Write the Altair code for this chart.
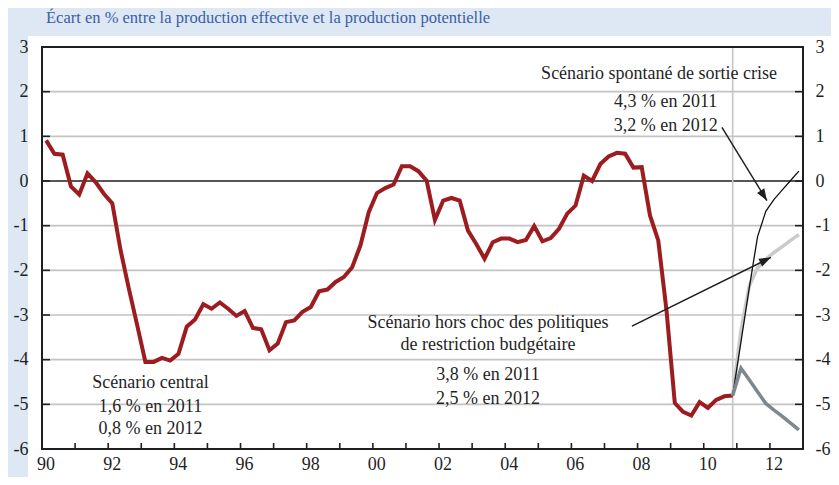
import altair as alt
import pandas as pd

# ---------------- data ----------------
red_start = 1990.125          # first quarter (mid-quarter position)
red_vals = [0.91, 0.61, 0.59, -0.12, -0.30, 0.17, -0.03, -0.29, -0.50, -1.55,
            -2.41, -3.22, -4.05, -4.05, -3.96, -4.02, -3.87, -3.26, -3.10, -2.76,
            -2.86, -2.72, -2.86, -3.02, -2.91, -3.29, -3.32, -3.79, -3.64, -3.16,
            -3.12, -2.93, -2.82, -2.47, -2.43, -2.26, -2.15, -1.93, -1.44, -0.70,
            -0.27, -0.16, -0.08, 0.33, 0.33, 0.22, 0.01, -0.87, -0.44, -0.38,
            -0.44, -1.11, -1.41, -1.74, -1.37, -1.29, -1.29, -1.37, -1.32, -1.01,
            -1.35, -1.28, -1.07, -0.73, -0.55, 0.12, 0.00, 0.38, 0.55, 0.63,
            0.61, 0.30, 0.31, -0.77, -1.33, -2.90, -4.97, -5.17, -5.25, -4.95,
            -5.08, -4.90, -4.82, -4.80]

scen_t = [2010.875, 2011.125, 2011.375, 2011.625, 2011.875,
          2012.125, 2012.375, 2012.625, 2012.875]
scen_central = [-4.80, -4.19, -4.45, -4.72, -4.98, -5.13, -5.27, -5.42, -5.57]
scen_hors_choc = [-4.80, -3.35, -2.35, -1.95, -1.75, -1.60, -1.47, -1.33, -1.20]
scen_spontane = [-4.80, -3.60, -2.40, -1.25, -0.68, -0.41, -0.20, 0.01, 0.22]

y_ticks = [-6, -5, -4, -3, -2, -1, 0, 1, 2, 3]
grid_vals = [-5, -4, -3, -2, -1, 1, 2]
x_label_years = [1990, 1992, 1994, 1996, 1998, 2000, 2002, 2004, 2006, 2008, 2010, 2012]
x_label_text = ["90", "92", "94", "96", "98", "00", "02", "04", "06", "08", "10", "12"]
x_tick_years = list(range(1991, 2013))
forecast_start = [2010.875]

title_text = "Écart en % entre la production effective et la production potentielle"

ann_text = ["Scénario spontané de sortie crise", "4,3 % en 2011", "3,2 % en 2012",
            "Scénario hors choc des politiques", "de restriction budgétaire",
            "3,8 % en 2011", "2,5 % en 2012",
            "Scénario central", "1,6 % en 2011", "0,8 % en 2012"]
ann_t = [2008.65, 2008.85, 2008.85,
         2003.48, 2003.48, 2003.48, 2003.48,
         1993.28, 1993.28, 1993.28]
ann_v = [2.40, 1.76, 1.24,
         -3.19, -3.68, -4.35, -4.87,
         -4.52, -5.06, -5.55]

arrow_id = ["a1", "a1", "a2", "a2"]
arrow_t = [2010.55, 2011.91, 2007.83, 2012.03]
arrow_v = [1.20, -0.44, -3.25, -1.71]
head_t = [2011.91, 2012.03]
head_v = [-0.44, -1.71]
head_angle = [148, 64]

# ---------------- build ----------------
W, H = 761, 402
FONT = "Liberation Serif"
INK = "#1f1f1f"

xs = alt.Scale(domain=[1990, 2013], nice=False, zero=False)
ys = alt.Scale(domain=[-6, 3], nice=False, zero=False)

red_df = pd.DataFrame({"t": [red_start + 0.25 * i for i in range(len(red_vals))],
                       "v": red_vals})
scen_df = pd.DataFrame({"t": scen_t * 3,
                        "v": scen_central + scen_hors_choc + scen_spontane,
                        "s": ["central"] * 9 + ["hors"] * 9 + ["spont"] * 9})
dummy = pd.DataFrame({"a": [0]})

X = lambda f="t", axis=None: alt.X(f"{f}:Q", scale=xs, axis=axis)
Y = lambda f="v", axis=None: alt.Y(f"{f}:Q", scale=ys, axis=axis)

white_panel = alt.Chart(dummy).mark_rect(color="white").encode(
    x=alt.value(-14), x2=alt.value(W + 40), y=alt.value(-11), y2=alt.value(H + 40))

common = dict(ticks=False, domain=False, grid=False, labelFont=FONT, labelFontSize=18,
              labelColor=INK, title=None, zindex=2)
left_axis = alt.Axis(values=y_ticks, labelExpr="'' + datum.value",
                     labelPadding=14, orient="left", **common)
right_axis = alt.Axis(values=y_ticks, labelExpr="'' + datum.value",
                      labelPadding=12, orient="right", **common)

grid = alt.Chart(pd.DataFrame({"v": grid_vals})).mark_rule(
    color="#c3c3c3", strokeWidth=1.6).encode(
    y=Y(axis=left_axis), x=alt.value(0), x2=alt.value(W))

zero = alt.Chart(pd.DataFrame({"v": [0]})).mark_rule(
    color=INK, strokeWidth=1.6).encode(y=Y(), x=alt.value(0), x2=alt.value(W))

vline = alt.Chart(pd.DataFrame({"t": forecast_start})).mark_rule(
    color="#c6c6c6", strokeWidth=1.6).encode(x=X(), y=alt.value(0), y2=alt.value(H))

yt = pd.DataFrame({"v": y_ticks})
lticks = alt.Chart(yt).mark_rule(color=INK, strokeWidth=1.6).encode(
    y=Y(), x=alt.value(0), x2=alt.value(8))
rticks = alt.Chart(yt).mark_rule(color=INK, strokeWidth=1.6).encode(
    y=Y(), x=alt.value(W - 8), x2=alt.value(W))
bticks = alt.Chart(pd.DataFrame({"t": x_tick_years})).mark_rule(
    color=INK, strokeWidth=1.6).encode(x=X(), y=alt.value(H - 6), y2=alt.value(H))

xlab_df = pd.DataFrame({"t": [y + 0.12 for y in x_label_years], "lab": x_label_text})
xlabels = alt.Chart(xlab_df).mark_text(
    font=FONT, fontSize=18, color=INK, align="center", baseline="middle").encode(
    x=X(), y=alt.value(H + 16), text="lab:N")

red = alt.Chart(red_df).mark_line(color="#9c1c20", strokeWidth=4).encode(
    x=X(), y=Y(axis=right_axis))

hors = alt.Chart(scen_df[scen_df.s == "hors"]).mark_line(
    color="#c8cace", strokeWidth=3.5).encode(x=X(), y=Y())
spont = alt.Chart(scen_df[scen_df.s == "spont"]).mark_line(
    color="#111111", strokeWidth=1.3).encode(x=X(), y=Y())
central = alt.Chart(scen_df[scen_df.s == "central"]).mark_line(
    color="#7e888d", strokeWidth=3.5).encode(x=X(), y=Y())

arrows = alt.Chart(pd.DataFrame({"id": arrow_id, "t": arrow_t, "v": arrow_v})).mark_line(
    color=INK, strokeWidth=1.5).encode(x=X(), y=Y(), detail="id:N")
heads = alt.Chart(pd.DataFrame({"t": head_t, "v": head_v, "ang": head_angle})).mark_point(
    shape="M0,0L-0.36,1L0.36,1Z", filled=True, color=INK, opacity=1, size=560).encode(
    x=X(), y=Y(), angle=alt.Angle("ang:Q", scale=None))

texts = alt.Chart(pd.DataFrame({"txt": ann_text, "t": ann_t, "v": ann_v})).mark_text(
    font=FONT, fontSize=18, color=INK, align="center", baseline="middle").encode(
    x=X(), y=Y(), text="txt:N")

title = alt.Chart(dummy).mark_text(
    text=title_text, font=FONT, fontSize=16.5, color="#3b5ea6",
    align="left", baseline="middle").encode(x=alt.value(4), y=alt.value(-29))

frame = alt.Chart(dummy).mark_rect(fillOpacity=0, stroke=INK, strokeWidth=2).encode(
    x=alt.value(0), x2=alt.value(W), y=alt.value(0), y2=alt.value(H))

chart = alt.layer(
    white_panel, grid, zero, vline, lticks, rticks, bticks, xlabels,
    red, hors, spont, central, arrows, heads, texts, title, frame
).resolve_axis(y="independent").properties(
    width=W, height=H, autosize="none",
    padding={"left": 34, "top": 39, "right": 28, "bottom": 28},
    background="#dde8f4"
).configure_view(strokeWidth=0)

chart.save("out.html", embed_options={"renderer": "svg", "actions": False})
